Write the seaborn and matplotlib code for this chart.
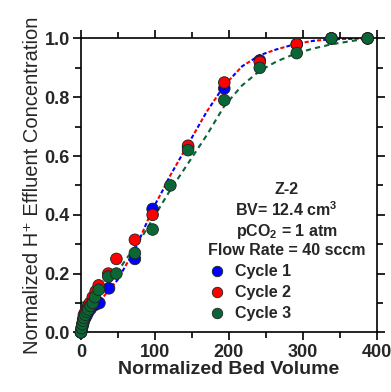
import matplotlib
matplotlib.use("Agg")
import matplotlib.pyplot as plt
from matplotlib.ticker import MultipleLocator, FormatStrFormatter
import seaborn as sns
import pandas as pd

sns.set_style("ticks")
plt.rcParams["font.family"] = ["Liberation Sans", "DejaVu Sans"]
plt.rcParams["mathtext.fontset"] = "custom"
plt.rcParams["mathtext.rm"] = "Liberation Sans"
plt.rcParams["mathtext.bf"] = "Liberation Sans:bold"

# --- DATA ---
cycles = ["Cycle 1", "Cycle 2", "Cycle 3"]
colors = ["#0000ff", "#ff0000", "#0a6634"]

bv_c1 = [0, 1, 2, 3, 4, 6, 8, 10, 13, 16, 20, 25, 38, 73, 97, 145, 194, 242, 292, 339, 388]
conc_c1 = [0, 0.01, 0.02, 0.03, 0.04, 0.05, 0.06, 0.07, 0.08, 0.09, 0.095, 0.10, 0.15,
           0.25, 0.42, 0.63, 0.83, 0.925, 0.98, 1.0, 1.0]

bv_c2 = [0, 1, 2, 3, 4, 6, 8, 10, 12, 16, 20, 24, 37, 48, 73, 97, 145, 194, 242, 292, 339, 388]
conc_c2 = [0, 0.015, 0.03, 0.045, 0.06, 0.07, 0.08, 0.09, 0.10, 0.12, 0.14, 0.16, 0.20,
           0.25, 0.315, 0.40, 0.635, 0.85, 0.92, 0.98, 1.0, 1.0]

bv_c3 = [0, 1, 2, 3, 4, 6, 8, 10, 13, 16, 19, 24, 37, 48, 73, 97, 121, 145, 194, 242, 292, 339, 388]
conc_c3 = [0, 0.015, 0.028, 0.04, 0.05, 0.06, 0.07, 0.078, 0.09, 0.10, 0.12, 0.145, 0.19,
           0.20, 0.27, 0.35, 0.50, 0.62, 0.79, 0.90, 0.95, 1.0, 1.0]

# fitted curves
fit12_bv = [0, 10, 20, 30, 40, 50, 60, 73, 85, 97, 110, 120, 145, 170, 194, 218, 242,
            265, 292, 315, 339, 388]
fit12_conc = [0.05, 0.07, 0.095, 0.12, 0.15, 0.18, 0.225, 0.28, 0.35, 0.42, 0.48, 0.53,
              0.64, 0.75, 0.84, 0.905, 0.943, 0.963, 0.982, 0.992, 0.997, 1.0]
fit3_bv = [0, 7, 20, 37, 48, 60, 73, 85, 97, 121, 145, 170, 194, 218, 242, 265, 292,
           315, 339, 388]
fit3_conc = [0.10, 0.105, 0.13, 0.17, 0.20, 0.245, 0.29, 0.335, 0.385, 0.485, 0.575,
             0.67, 0.77, 0.84, 0.89, 0.922, 0.95, 0.966, 0.98, 1.0]

legend_title = ("Z-2\nBV= 12.4 cm$^{\\mathbf{3}}$\npCO$_{\\mathbf{2}}$ = 1 atm\n"
                "Flow Rate = 40 sccm")

rows = []
for name, xs, ys in [(cycles[0], bv_c1, conc_c1),
                     (cycles[1], bv_c2, conc_c2),
                     (cycles[2], bv_c3, conc_c3)]:
    for x, y in zip(xs, ys):
        rows.append({"bv": x, "conc": y, "cycle": name})
df = pd.DataFrame(rows)

# --- PLOT ---
fig = plt.figure(figsize=(3.91, 3.92), dpi=100)
ax = fig.add_axes([0.207, 0.152, 0.756, 0.750])

ax.plot(fit12_bv, fit12_conc, color=colors[0], lw=1.5, ls=(0, (2.0, 4.0)), zorder=2)
ax.plot(fit12_bv, fit12_conc, color=colors[1], lw=1.5, ls=(3.0, (2.0, 4.0)), zorder=2)
ax.plot(fit3_bv, fit3_conc, color=colors[2], lw=1.5, ls=(0, (2.5, 2.0)), zorder=2)

sns.scatterplot(data=df, x="bv", y="conc", hue="cycle", hue_order=cycles,
                palette=colors, s=70, edgecolor="#222222", linewidth=0.6,
                clip_on=False, zorder=3, ax=ax)

ax.set_xlim(0, 400)
ax.set_ylim(0, 1.0)
ax.xaxis.set_major_locator(MultipleLocator(100))
ax.xaxis.set_minor_locator(MultipleLocator(50))
ax.yaxis.set_major_locator(MultipleLocator(0.2))
ax.yaxis.set_minor_locator(MultipleLocator(0.1))
ax.yaxis.set_major_formatter(FormatStrFormatter("%.1f"))

ax.tick_params(which="both", direction="out", top=True, right=True, width=1.2, color="black")
ax.tick_params(which="major", length=6, labelsize=13, pad=2)
ax.tick_params(which="minor", length=4)
for lab in ax.get_xticklabels() + ax.get_yticklabels():
    lab.set_fontweight("bold")
for sp in ax.spines.values():
    sp.set_linewidth(1.2)
    sp.set_color("black")

ax.set_xlabel("Normalized Bed Volume", fontsize=14, fontweight="bold", labelpad=0)
ax.set_ylabel("Normalized H⁺ Effluent Concentration", fontsize=14.5, labelpad=2)

leg = ax.legend(title=legend_title, loc="lower right", frameon=False,
                prop={"weight": "bold", "size": 11.5},
                title_fontproperties={"weight": "bold", "size": 11.5},
                alignment="left", handlelength=1.2, handletextpad=0.5,
                labelspacing=0.38, borderaxespad=0.3, markerscale=0.9)
leg.get_title().set_multialignment("center")

fig.savefig("out.png", dpi=100)
